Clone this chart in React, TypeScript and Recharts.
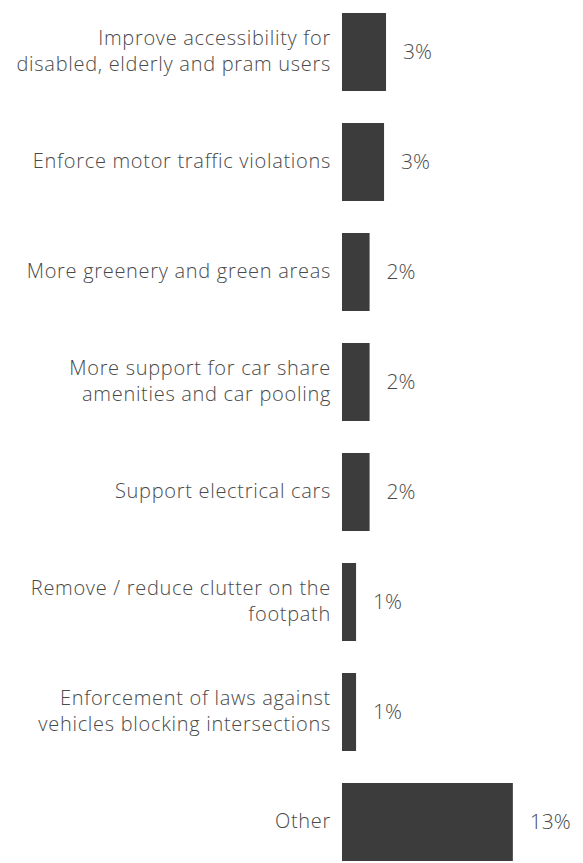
import React from 'react';
import { BarChart, Bar, XAxis, YAxis, LabelList } from 'recharts';

// category labels, "\n" marks where the original wraps
const categories = [
  'Improve accessibility for\ndisabled, elderly and pram users',
  'Enforce motor traffic violations',
  'More greenery and green areas',
  'More support for car share\namenities and car pooling',
  'Support electrical cars',
  'Remove / reduce clutter on the\nfootpath',
  'Enforcement of laws against\nvehicles blocking intersections',
  'Other',
];

// share of responses, in percent
const shares = [3.35, 3.2, 2.1, 2.1, 2.1, 1.07, 1.07, 13];

const data = categories.map((name, i) => ({ name, value: shares[i] }));

const FONT = '"Open Sans", Roboto, sans-serif';
const TEXT = '#4a4a4a';
const BAR = '#3c3c3c';

const CategoryTick = (props: any) => {
  const { x, y, payload } = props;
  const lines: string[] = String(payload.value).split('\n');
  const lineH = 26;
  const startY = y - ((lines.length - 1) * lineH) / 2;
  return (
    <text
      x={x - 3}
      y={startY}
      textAnchor="end"
      fill={TEXT}
      fontSize={20}
      fontWeight={300}
      letterSpacing={0.7}
      fontFamily={FONT}
    >
      {lines.map((l, i) => (
        <tspan key={i} x={x - 3} y={startY + i * lineH} dy="0.3em">
          {l}
        </tspan>
      ))}
    </text>
  );
};

export default function App() {
  return (
    <div style={{ position: 'absolute', left: 0, top: -3, background: '#fff' }}>
      <BarChart
        width={583}
        height={880}
        data={data}
        layout="vertical"
        margin={{ top: 0, right: 57, bottom: 0, left: 0 }}
      >
        <XAxis type="number" domain={[0, 14]} hide />
        <YAxis
          type="category"
          dataKey="name"
          width={342}
          axisLine={false}
          tickLine={false}
          interval={0}
          tick={<CategoryTick />}
        />
        <Bar dataKey="value" fill={BAR} barSize={78} isAnimationActive={false}>
          <LabelList
            dataKey="value"
            position="right"
            offset={17}
            formatter={(v: any) => `${Math.round(Number(v))}%`}
            fill={TEXT}
            fontSize={21}
            fontWeight={300}
            fontFamily={FONT}
          />
        </Bar>
      </BarChart>
    </div>
  );
}
